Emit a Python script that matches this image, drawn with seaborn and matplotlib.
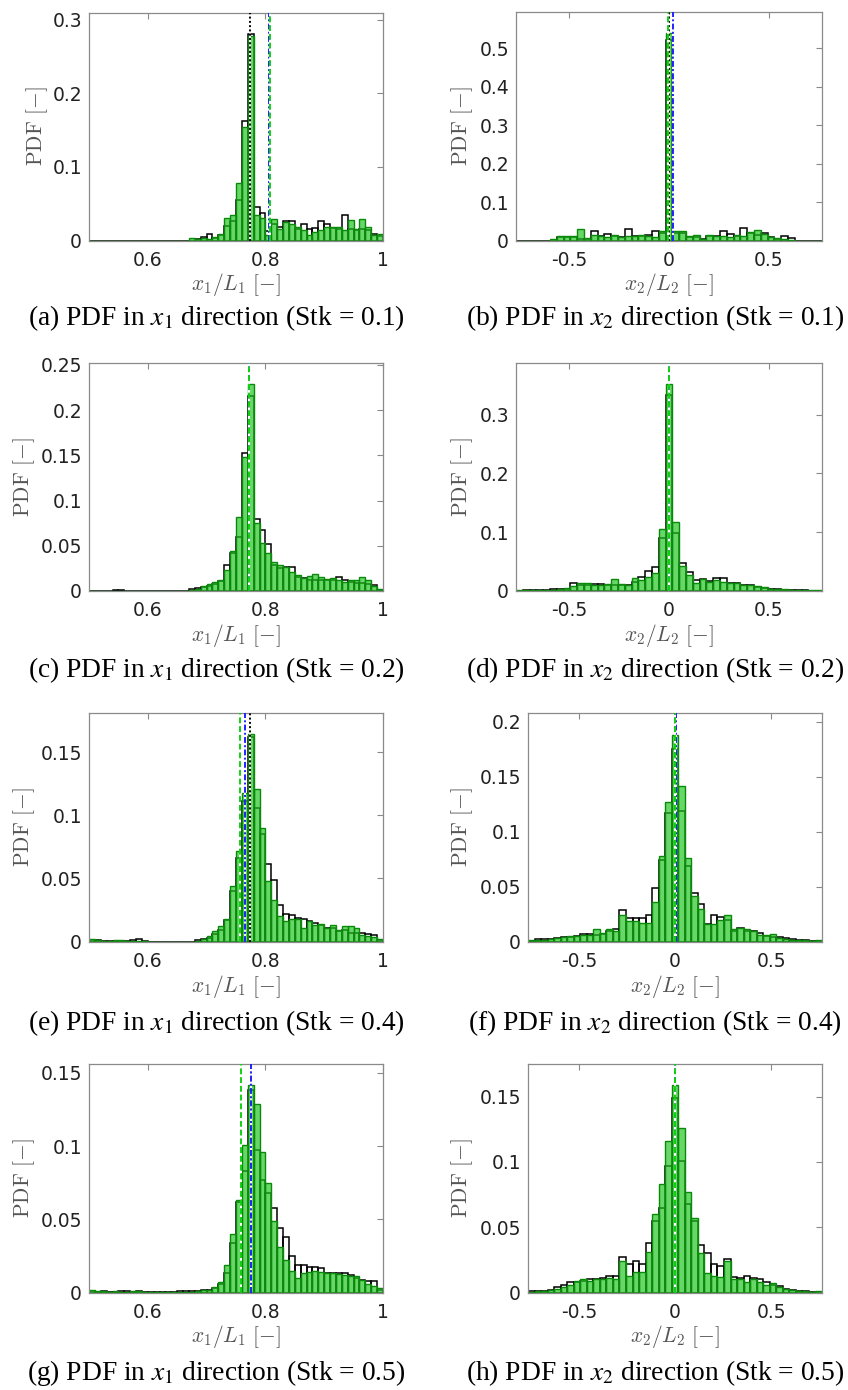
import numpy as np
import pandas as pd
import matplotlib
matplotlib.use("Agg")
import matplotlib.pyplot as plt
import seaborn as sns

# ---------------------------------------------------------------------------
# Binned particle-position PDFs (probability per bin)
# x1 bins: 0.50 ... 1.00, width 0.01 (50 bins)
# x2 bins: centred on 0, width 0.034 (45 bins, k = -22 ... 22)
# "line" = outlined histogram, "fill" = green filled histogram
# ---------------------------------------------------------------------------
X1_EDGES = np.linspace(0.5, 1.0, 51)
X2_WIDTH = 0.034
X2_EDGES = (np.arange(-22, 24) - 0.5) * X2_WIDTH

# Stk = 0.1
pdf_a_line = [0] * 17 + [0.000, 0.002, 0.005, 0.009, 0.004, 0.007, 0.020, 0.027, 0.055, 0.163,
                         0.281, 0.046, 0.038, 0.013, 0.022, 0.018, 0.026, 0.026, 0.016, 0.022,
                         0.016, 0.017, 0.026, 0.022, 0.017, 0.015, 0.034, 0.016, 0.014, 0.015,
                         0.014, 0.009, 0.006]
pdf_a_fill = [0] * 17 + [0.003, 0.002, 0.004, 0.002, 0.005, 0.009, 0.031, 0.035, 0.078, 0.155,
                         0.278, 0.034, 0.030, 0.008, 0.029, 0.015, 0.025, 0.022, 0.018, 0.014,
                         0.008, 0.012, 0.014, 0.018, 0.019, 0.019, 0.014, 0.028, 0.015, 0.029,
                         0.019, 0.008, 0.009]
pdf_b_line = [0, 0, 0, 0, 0, 0,
              0.010, 0.010, 0.008, 0.005, 0.005, 0.025, 0.012, 0.018, 0.012, 0.010,
              0.029, 0.012, 0.012, 0.015, 0.024, 0.020,
              0.522,
              0.020, 0.020, 0.010, 0.010, 0.004, 0.012, 0.012, 0.024, 0.018, 0.012,
              0.032, 0.020, 0.015, 0.020, 0.010, 0.005, 0.012, 0.006,
              0, 0, 0, 0]
pdf_b_fill = [0, 0, 0, 0, 0, 0.005,
              0.012, 0.011, 0.012, 0.031, 0.007, 0.013, 0.012, 0.010, 0.015, 0.009,
              0.012, 0.012, 0.015, 0.012, 0.010, 0.025,
              0.540,
              0.025, 0.024, 0.012, 0.015, 0.004, 0.015, 0.012, 0.012, 0.010, 0.015,
              0.012, 0.022, 0.026, 0.018, 0.008, 0.006, 0.003, 0.002,
              0, 0, 0, 0]

# Stk = 0.2
pdf_c_line = [0, 0, 0, 0, 0.001, 0.001] + [0] * 11 + [
    0.002, 0.003, 0.004, 0.005, 0.008, 0.011, 0.029, 0.042, 0.060, 0.152,
    0.215, 0.080, 0.067, 0.052, 0.029, 0.025, 0.027, 0.027, 0.015, 0.014,
    0.012, 0.012, 0.012, 0.012, 0.012, 0.016, 0.012, 0.010, 0.009, 0.009,
    0.008, 0.007, 0.001]
pdf_c_fill = [0, 0, 0, 0, 0.0005, 0] + [0] * 11 + [
    0.001, 0.002, 0.005, 0.008, 0.010, 0.012, 0.023, 0.044, 0.082, 0.148,
    0.229, 0.075, 0.053, 0.042, 0.032, 0.029, 0.027, 0.021, 0.018, 0.014,
    0.017, 0.019, 0.015, 0.013, 0.014, 0.012, 0.010, 0.012, 0.012, 0.016,
    0.012, 0.005, 0.002]
pdf_d_line = [0, 0.001, 0.001, 0.002, 0.002, 0.003, 0.003, 0.004, 0.013, 0.010,
              0.011, 0.012, 0.012, 0.010, 0.011, 0.011, 0.010, 0.016, 0.024, 0.034,
              0.041, 0.090, 0.333, 0.098, 0.047, 0.033, 0.019, 0.020, 0.017, 0.022,
              0.022, 0.013, 0.013, 0.010, 0.011, 0.007, 0.005, 0.004, 0.004, 0.002,
              0.001, 0.002, 0.001, 0, 0]
pdf_d_fill = [0.001, 0.001, 0.001, 0.002, 0.002, 0.002, 0.004, 0.005, 0.008, 0.013,
              0.013, 0.010, 0.011, 0.012, 0.020, 0.012, 0.011, 0.022, 0.018, 0.023,
              0.030, 0.106, 0.352, 0.117, 0.042, 0.027, 0.014, 0.020, 0.016, 0.019,
              0.016, 0.013, 0.014, 0.010, 0.010, 0.008, 0.006, 0.004, 0.004, 0.003,
              0.002, 0.002, 0.001, 0.001, 0.002]

# Stk = 0.4
pdf_e_line = [0.001, 0.001, 0.0005, 0.0005, 0.0005, 0.0005, 0.0005, 0.001, 0.002, 0.0005,
              0, 0, 0, 0, 0, 0, 0, 0, 0.001, 0.002,
              0.003, 0.006, 0.009, 0.017, 0.040, 0.066, 0.111, 0.162, 0.106, 0.085,
              0.061, 0.049, 0.029, 0.022, 0.021, 0.019, 0.018, 0.016, 0.0145, 0.013,
              0.011, 0.011, 0.008, 0.009, 0.007, 0.007, 0.007, 0.006, 0.005, 0.0015]
pdf_e_fill = [0.002, 0.001, 0.0005, 0.0005, 0.001, 0.001, 0.0005, 0.0005, 0.0005, 0.0005,
              0, 0, 0, 0, 0, 0, 0, 0, 0.0005, 0.002,
              0.004, 0.008, 0.012, 0.018, 0.044, 0.072, 0.118, 0.164, 0.121, 0.090,
              0.048, 0.033, 0.020, 0.016, 0.018, 0.018, 0.011, 0.016, 0.013, 0.014,
              0.011, 0.013, 0.009, 0.012, 0.012, 0.011, 0.005, 0.004, 0.0035, 0.002]
pdf_f_line = [0.0005, 0.002, 0.002, 0.002, 0.003, 0.004, 0.004, 0.005, 0.007, 0.007,
              0.006, 0.007, 0.010, 0.011, 0.029, 0.021, 0.021, 0.021, 0.024, 0.049,
              0.074, 0.117, 0.175, 0.119, 0.069, 0.044, 0.034, 0.016, 0.024, 0.022,
              0.020, 0.010, 0.012, 0.010, 0.010, 0.008, 0.005, 0.004, 0.004, 0.003,
              0.002, 0.001, 0.001, 0.0005, 0]
pdf_f_fill = [0.001, 0.001, 0.001, 0.002, 0.003, 0.004, 0.005, 0.005, 0.006, 0.006,
              0.011, 0.008, 0.011, 0.010, 0.024, 0.019, 0.019, 0.017, 0.017, 0.036,
              0.078, 0.127, 0.188, 0.142, 0.076, 0.041, 0.030, 0.016, 0.016, 0.020,
              0.024, 0.011, 0.012, 0.011, 0.010, 0.006, 0.006, 0.007, 0.003, 0.002,
              0.001, 0.001, 0.001, 0.0005, 0.001]

# Stk = 0.5
pdf_g_line = [0.001, 0.0005, 0.001, 0.0005, 0.0005, 0.001, 0.001, 0.0005, 0.001, 0.0005,
              0.0005, 0.0005, 0.0005, 0.0005, 0.0005, 0.001, 0.001, 0.001, 0.001, 0.002,
              0.002, 0.003, 0.0055, 0.013, 0.0335, 0.062, 0.083, 0.138, 0.097, 0.077,
              0.068, 0.058, 0.044, 0.038, 0.025, 0.019, 0.019, 0.0175, 0.0175, 0.017,
              0.0135, 0.013, 0.013, 0.013, 0.012, 0.0096, 0.0085, 0.0078, 0.0078, 0.0016]
pdf_g_fill = [0.002, 0.001, 0.001, 0.0005, 0.001, 0.0005, 0.0005, 0.001, 0.001, 0.0005,
              0.0005, 0.0005, 0.0005, 0.0005, 0.0005, 0.0005, 0.0005, 0.0005, 0.001, 0.0015,
              0.002, 0.004, 0.007, 0.019, 0.040, 0.063, 0.101, 0.1415, 0.129, 0.096,
              0.075, 0.049, 0.031, 0.022, 0.015, 0.010, 0.013, 0.014, 0.0146, 0.014,
              0.0135, 0.013, 0.0123, 0.012, 0.0114, 0.011, 0.0085, 0.0055, 0.0046, 0.003]
pdf_h_line = [0.001, 0.001, 0.001, 0.002, 0.004, 0.006, 0.008, 0.008, 0.009, 0.010,
              0.010, 0.011, 0.013, 0.013, 0.027, 0.022, 0.024, 0.022, 0.038, 0.055,
              0.065, 0.097, 0.149, 0.101, 0.068, 0.055, 0.036, 0.030, 0.022, 0.020,
              0.026, 0.012, 0.011, 0.013, 0.011, 0.010, 0.008, 0.006, 0.005, 0.003,
              0.002, 0.001, 0.001, 0.0005, 0]
pdf_h_fill = [0.0005, 0.001, 0.001, 0.002, 0.003, 0.004, 0.006, 0.009, 0.010, 0.009,
              0.010, 0.010, 0.011, 0.010, 0.024, 0.013, 0.016, 0.016, 0.031, 0.060,
              0.083, 0.116, 0.159, 0.126, 0.077, 0.057, 0.030, 0.015, 0.013, 0.012,
              0.024, 0.010, 0.010, 0.008, 0.010, 0.008, 0.006, 0.007, 0.004, 0.003,
              0.002, 0.001, 0.001, 0.0005, 0.001]

# Mean positions (green, blue, black) per panel
marks_a = [0.808, 0.806, 0.774]
marks_b = [-0.003, 0.022, 0.000]
marks_c = [0.772, 0.772, 0.772]
marks_d = [0.000, 0.000, 0.000]
marks_e = [0.756, 0.765, 0.774]
marks_f = [0.000, 0.004, 0.002]
marks_g = [0.759, 0.775, 0.775]
marks_h = [0.002, 0.002, 0.002]

# Axis ticks
x1_ticks = [0.6, 0.8, 1.0]
x2_ticks = [-0.5, 0.0, 0.5]
yticks_a = [0, 0.1, 0.2, 0.3]
yticks_b = [0, 0.1, 0.2, 0.3, 0.4, 0.5]
yticks_c = [0, 0.05, 0.1, 0.15, 0.2, 0.25]
yticks_d = [0, 0.1, 0.2, 0.3]
yticks_e = [0, 0.05, 0.1, 0.15]
yticks_f = [0, 0.05, 0.1, 0.15, 0.2]
yticks_g = [0, 0.05, 0.1, 0.15]
yticks_h = [0, 0.05, 0.1, 0.15]
ytops = dict(a=0.310, b=0.594, c=0.252, d=0.388, e=0.181, f=0.208, g=0.156, h=0.175)

stokes = dict(a="0.1", b="0.1", c="0.2", d="0.2", e="0.4", f="0.4", g="0.5", h="0.5")

# ---------------------------------------------------------------------------
sns.set_theme(style="white")
plt.rcParams["font.family"] = ["DejaVu Sans"]
plt.rcParams["mathtext.fontset"] = "cm"

W, H = 848, 1390
fig = plt.figure(figsize=(W / 100, H / 100), dpi=100)

# axes boxes in pixels: left, top, right, bottom
boxes = dict(
    a=(89, 12.5, 383, 240.5), b=(516, 12, 822, 240.5),
    c=(89, 363, 383, 591), d=(516, 363, 822, 591),
    e=(89, 713, 383, 941.5), f=(528, 713, 822, 941.5),
    g=(89, 1064, 383, 1292.5), h=(528, 1064, 822, 1292.5),
)
ylabel_x = dict(a=37, b=462, c=24, d=462, e=24, f=462, g=24, h=462)
caption_y = dict(a=318, b=318, c=670, d=670, e=1023, f=1023, g=1373, h=1373)

series = dict(
    a=(pdf_a_line, pdf_a_fill, marks_a, yticks_a),
    b=(pdf_b_line, pdf_b_fill, marks_b, yticks_b),
    c=(pdf_c_line, pdf_c_fill, marks_c, yticks_c),
    d=(pdf_d_line, pdf_d_fill, marks_d, yticks_d),
    e=(pdf_e_line, pdf_e_fill, marks_e, yticks_e),
    f=(pdf_f_line, pdf_f_fill, marks_f, yticks_f),
    g=(pdf_g_line, pdf_g_fill, marks_g, yticks_g),
    h=(pdf_h_line, pdf_h_fill, marks_h, yticks_h),
)

GREEN_FILL = "#1fc41f"
GREEN_EDGE = "#0a8a0a"
SPINE = "#8a8a8a"
LABEL = "#555555"

for key in "abcdefgh":
    line_vals, fill_vals, marks, yt = series[key]
    along_x1 = key in "aceg"
    edges = X1_EDGES if along_x1 else X2_EDGES
    centers = 0.5 * (edges[:-1] + edges[1:])
    df = pd.DataFrame({"pos": centers,
                       "line": np.asarray(line_vals, dtype=float),
                       "fill": np.asarray(fill_vals, dtype=float)})
    bin_list = [float(e) for e in edges]

    l, t, r, b = boxes[key]
    ax = fig.add_axes([l / W, 1 - b / H, (r - l) / W, (b - t) / H])

    sns.histplot(data=df, x="pos", weights="line", bins=bin_list, stat="count",
                 fill=False, color="black", linewidth=1.1, ax=ax)
    sns.histplot(data=df, x="pos", weights="fill", bins=bin_list, stat="count",
                 fill=True, color=GREEN_FILL, alpha=0.68, edgecolor=GREEN_EDGE,
                 linewidth=1.0, ax=ax)

    g_pos, b_pos, k_pos = marks
    ax.axvline(k_pos, color="black", ls=(0, (1.0, 1.2)), lw=1.4, gapcolor="white", zorder=5)
    ax.axvline(b_pos, color="#2323ff", ls=(0, (3.0, 1.2, 1.0, 1.2)), lw=1.4, gapcolor="white", zorder=6)
    ax.axvline(g_pos, color="#12d012", ls=(0, (3.0, 1.5)), lw=1.4, gapcolor="white", zorder=7)

    if along_x1:
        ax.set_xlim(0.5, 1.0)
        ax.set_xticks(x1_ticks, [f"{v:g}" for v in x1_ticks])
        ax.set_xlabel(r"$x_1/L_1\ [-]$")
    else:
        ax.set_xlim(-0.765, 0.765)
        ax.set_xticks(x2_ticks, [f"{v:g}" for v in x2_ticks])
        ax.set_xlabel(r"$x_2/L_2\ [-]$")
    ax.set_ylim(0, ytops[key])
    ax.set_yticks(yt, [f"{v:g}" for v in yt])
    ax.set_ylabel(r"$\mathrm{PDF}\ [-]$")

    ax.xaxis.label.set_fontsize(15.5)
    ax.yaxis.label.set_fontsize(15.5)
    ax.xaxis.label.set_color(LABEL)
    ax.yaxis.label.set_color(LABEL)
    ax.xaxis.label.set_va("center")
    ax.yaxis.label.set_va("center")
    ax.xaxis.set_label_coords(0.5, -44.5 / (b - t))
    ax.yaxis.set_label_coords((ylabel_x[key] - l) / (r - l), 0.5)

    ax.tick_params(direction="in", top=True, right=True, length=4, width=0.8,
                   color=SPINE, labelcolor="#222222", labelsize=13.5)
    ax.tick_params(axis="x", pad=7.5)
    ax.tick_params(axis="y", pad=5)
    for sp in ax.spines.values():
        sp.set_visible(True)
        sp.set_color(SPINE)
        sp.set_linewidth(0.9)

    direction = "x_1" if along_x1 else "x_2"
    cx = 216 if key in "aceg" else 655
    fig.text(cx / W, 1 - caption_y[key] / H,
             f"({key}) PDF in ${direction}$ direction (Stk = {stokes[key]})",
             ha="center", va="center", fontsize=19.8, color="black",
             family=["Liberation Serif", "DejaVu Serif"], math_fontfamily="stix")

fig.savefig("out.png", dpi=100)
